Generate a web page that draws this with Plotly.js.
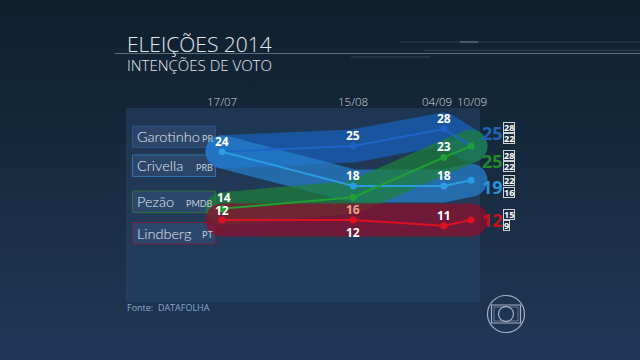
<!DOCTYPE html>
<html>
<head>
<meta charset="utf-8">
<script src="https://cdn.plot.ly/plotly-3.0.1.min.js"></script>
<style>
html,body{margin:0;padding:0;width:640px;height:360px;overflow:hidden;
background:linear-gradient(to bottom,#0f202f 0%,#14283b 35%,#1b3149 70%,#203857 100%);}
#chart{width:640px;height:360px;}
</style>
</head>
<body>
<div id="chart"></div>
<script>
// ---- data ----
const dates = ['2014-07-17', '2014-08-15', '2014-09-04', '2014-09-10'];
const dateLabels = ['17/07', '15/08', '04/09', '10/09'];
const candidates = ['Garotinho', 'Crivella', 'Pezão', 'Lindberg'];
const parties = ['PR', 'PRB', 'PMDB', 'PT'];
const garotinho = [24, 25, 28, 25];
const crivella = [24, 18, 18, 19];
const pezao = [14, 16, 23, 25];
const lindberg = [12, 12, 11, 12];
const marginHigh = [28, 22, 28, 15]; // Garotinho, Crivella, Pezão, Lindberg
const marginLow = [22, 16, 22, 9];
const sourceText = 'Fonte:  DATAFOLHA';
const titleText = 'ELEIÇÕES 2014';
const subtitleText = 'INTENÇÕES DE VOTO';

const series = [garotinho, crivella, pezao, lindberg];

// ---- styles ----
const lineColors = ['#1c64c6', '#2a9de2', '#20a032', '#dc1020'];
const bandColors = ['rgba(25,92,175,0.82)', 'rgba(38,128,205,0.72)', 'rgba(30,128,55,0.70)', 'rgba(140,14,45,0.74)'];
const bigColors = ['#1f63b8', '#2a92d8', '#1f8a2c', '#c8101e'];
const boxBorders = ['#27548a', '#2f70a8', '#2d6e3b', '#6e2238'];
// label placement per series / date ('' = none)
const labelPos = [
  ['up', 'up', 'up', ''],
  ['', 'up', 'up', ''],
  ['up', 'down', 'up', ''],
  ['up', 'down', 'up', '']
];
const labelColors = [
  ['#fff', '#fff', '#fff', '#fff'],
  ['#fff', '#fff', '#fff', '#fff'],
  ['#fff', '#eea193', '#fff', '#fff'],
  ['#fff', '#fff', '#fff', '#fff']
];
const bigShift = [13, -6.5, -15, 0];
const legendTop = [126, 155, 191, 222.5];

// ---- axis geometry (full-figure plot area, paper == pixels) ----
const W = 640, H = 360;
const dayMs = 86400000;
const t0 = Date.parse(dates[0] + 'T00:00:00Z');
const pxPerDay = 249 / 55;
const xRange = [t0 - 222 / pxPerDay * dayMs, t0 + (W - 222) / pxPerDay * dayMs];
const pxPerUnit = 5.69;
const yRange = [28 - (H - 129) / pxPerUnit, 28 + 129 / pxPerUnit];
const px = v => v / W;
const py = v => 1 - v / H;

const FONT = 'Open Sans, Lato, sans-serif';

const traces = [];
series.forEach((s, i) => {
  traces.push({
    x: dates, y: s, type: 'scatter', mode: 'lines',
    line: {color: bandColors[i], width: 33},
    hoverinfo: 'skip', showlegend: false, name: 'band' + i
  });
});
series.forEach((s, i) => {
  traces.push({
    x: dates, y: s, type: 'scatter', mode: 'lines+markers',
    line: {color: lineColors[i], width: 2},
    marker: {color: lineColors[i], size: 7},
    hoverinfo: 'skip', showlegend: false, name: candidates[i]
  });
});

const shapes = [];
const annotations = [];

// panel
shapes.push({type: 'rect', xref: 'paper', yref: 'paper', x0: px(126), x1: px(480), y0: py(302), y1: py(108),
  fillcolor: 'rgba(48,78,118,0.40)', line: {width: 0}, layer: 'below'});

// decorative header lines
shapes.push({type: 'line', xref: 'paper', yref: 'paper', x0: px(115), x1: px(640), y0: py(53.5), y1: py(53.5),
  line: {color: 'rgba(150,170,190,0.55)', width: 1}, layer: 'below'});
shapes.push({type: 'line', xref: 'paper', yref: 'paper', x0: px(400), x1: px(640), y0: py(42), y1: py(42),
  line: {color: 'rgba(150,170,190,0.22)', width: 1}, layer: 'below'});
shapes.push({type: 'line', xref: 'paper', yref: 'paper', x0: px(460), x1: px(478), y0: py(42), y1: py(42),
  line: {color: 'rgba(200,210,220,0.5)', width: 1}, layer: 'below'});
shapes.push({type: 'line', xref: 'paper', yref: 'paper', x0: px(424), x1: px(640), y0: py(50.5), y1: py(50.5),
  line: {color: 'rgba(150,170,190,0.22)', width: 1}, layer: 'below'});
shapes.push({type: 'line', xref: 'paper', yref: 'paper', x0: px(351), x1: px(430), y0: py(57), y1: py(57),
  line: {color: 'rgba(150,170,190,0.25)', width: 1}, layer: 'below'});

// legend boxes
candidates.forEach((c, i) => {
  const top = legendTop[i], bot = top + 21.5;
  shapes.push({type: 'rect', xref: 'paper', yref: 'paper', x0: px(132.5), x1: px(215.5), y0: py(bot), y1: py(top),
    fillcolor: 'rgba(52,82,122,0.55)', line: {color: boxBorders[i], width: 1}, layer: 'below'});
  annotations.push({xref: 'paper', yref: 'paper', x: px(134.5), y: py((top + bot) / 2), xanchor: 'left', yanchor: 'middle',
    text: c, showarrow: false, font: {family: 'Lato, Open Sans, sans-serif', size: 14.5, weight: 300, color: '#e4e9ee'}});
  annotations.push({xref: 'paper', yref: 'paper', x: px(214.5), y: py((top + bot) / 2 + 1.5), xanchor: 'right', yanchor: 'middle',
    text: parties[i], showarrow: false, font: {family: 'Lato, Open Sans, sans-serif', size: 9, color: '#c3cbd4'}});
});

// globo logo
shapes.push({type: 'circle', xref: 'paper', yref: 'paper', x0: px(487.5), x1: px(524.5), y0: py(332.5), y1: py(295.5),
  line: {color: 'rgba(185,198,215,0.85)', width: 1.2}});
shapes.push({type: 'rect', xref: 'paper', yref: 'paper', x0: px(491.5), x1: px(520.5), y0: py(323), y1: py(305),
  line: {color: 'rgba(185,198,215,0.85)', width: 1.2}});
shapes.push({type: 'rect', xref: 'paper', yref: 'paper', x0: px(494), x1: px(518), y0: py(321), y1: py(307),
  line: {color: 'rgba(185,198,215,0.6)', width: 0.8}});
shapes.push({type: 'circle', xref: 'paper', yref: 'paper', x0: px(498.5), x1: px(513.5), y0: py(321.5), y1: py(306.5),
  line: {color: 'rgba(185,198,215,0.85)', width: 1.2}});

// titles
annotations.push({xref: 'paper', yref: 'paper', x: px(125), y: py(43.5), xanchor: 'left', yanchor: 'middle',
  text: titleText, showarrow: false, font: {family: FONT, size: 21, weight: 300, color: '#e6eaee'}});
annotations.push({xref: 'paper', yref: 'paper', x: px(125), y: py(64.5), xanchor: 'left', yanchor: 'middle',
  text: subtitleText, showarrow: false, font: {family: FONT, size: 15, weight: 300, color: '#e6eaee'}});
annotations.push({xref: 'paper', yref: 'paper', x: px(125), y: py(307.5), xanchor: 'left', yanchor: 'middle',
  text: sourceText, showarrow: false, font: {family: FONT, size: 9, color: '#8aa7cc'}});

// date labels
dates.forEach((d, j) => {
  annotations.push({xref: 'x', yref: 'paper', x: d, y: py(101), xanchor: 'center', yanchor: 'middle',
    xshift: j === 2 ? -7 : (j === 3 ? 1 : 0),
    text: dateLabels[j], showarrow: false, font: {family: FONT, size: 11.5, weight: 300, color: '#d3d8de'}});
});

// data labels
series.forEach((s, i) => {
  s.forEach((v, j) => {
    const p = labelPos[i][j];
    if (!p) return;
    annotations.push({xref: 'x', yref: 'y', x: dates[j], y: v, xanchor: 'center', yanchor: 'middle',
      xshift: (i === 2 && j === 0) ? 2 : 0,
      yshift: p === 'up' ? ((i === 2 && j === 0) ? 11.5 : (i === 3 && j === 0 ? 9.5 : 10.5)) : -12,
      text: String(v), showarrow: false,
      font: {family: FONT, size: 12, weight: 'bold', color: labelColors[i][j]}});
  });
});

// final big numbers + margin boxes
series.forEach((s, i) => {
  const last = s.length - 1;
  annotations.push({xref: 'x', yref: 'y', x: dates[last], y: s[last], xanchor: 'left', yanchor: 'middle',
    xshift: 9, yshift: bigShift[i], text: String(s[last]), showarrow: false,
    font: {family: FONT, size: 18, weight: 'bold', color: bigColors[i]}});
  [[marginHigh[i], 5.8], [marginLow[i], -5.8]].forEach(([val, dy]) => {
    annotations.push({xref: 'x', yref: 'y', x: dates[last], y: s[last], xanchor: 'left', yanchor: 'middle',
      xshift: 32, yshift: bigShift[i] + dy, text: String(val), showarrow: false,
      bgcolor: '#1b2b3b', bordercolor: '#cdd3da', borderwidth: 1, borderpad: 0, height: 8.5,
      font: {family: FONT, size: 9, weight: 'bold', color: '#ffffff'}});
  });
});

const layout = {
  width: W, height: H,
  margin: {l: 0, r: 0, t: 0, b: 0, pad: 0},
  paper_bgcolor: 'rgba(0,0,0,0)', plot_bgcolor: 'rgba(0,0,0,0)',
  showlegend: false,
  xaxis: {type: 'date', range: xRange, visible: false, fixedrange: true},
  yaxis: {range: yRange, visible: false, fixedrange: true},
  shapes: shapes, annotations: annotations,
  font: {family: FONT}
};

Plotly.newPlot('chart', traces, layout, {staticPlot: true, displayModeBar: false}).then(() => {
  const tr = document.querySelectorAll('.scatterlayer .trace');
  for (let k = 0; k < 4 && k < tr.length; k++) {
    tr[k].querySelectorAll('path.js-line').forEach(p => {
      p.style.strokeLinejoin = 'round';
      p.style.strokeLinecap = 'round';
    });
  }
});
</script>
</body>
</html>
